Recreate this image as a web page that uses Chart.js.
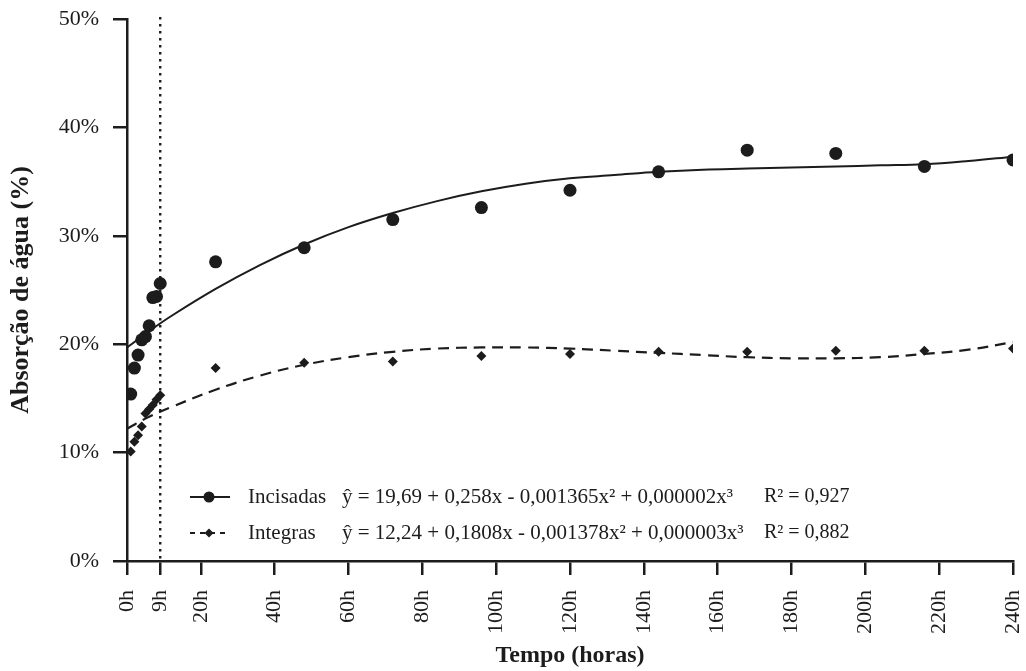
<!DOCTYPE html>
<html>
<head>
<meta charset="utf-8">
<script src="https://cdn.jsdelivr.net/npm/chart.js@4/dist/chart.umd.min.js"></script>
<style>
  html, body { margin: 0; padding: 0; background: #fff; }
  #wrap { width: 1026px; height: 671px; position: relative; }
</style>
</head>
<body>
<div id="wrap"><canvas id="c" width="1026" height="671"></canvas></div>
<script>
// ---- data ----
const sampleHours = [1, 2, 3, 4, 5, 6, 7, 8, 9, 24, 48, 72, 96, 120, 144, 168, 192, 216, 240];
const incisadas   = [15.4, 17.8, 19.0, 20.4, 20.7, 21.7, 24.3, 24.4, 25.6, 27.6, 28.9, 31.5, 32.6, 34.2, 35.9, 37.9, 37.6, 36.4, 37.0];
const integras    = [10.1, 11.0, 11.6, 12.4, 13.6, 14.0, 14.4, 14.9, 15.3, 17.8, 18.3, 18.4, 18.9, 19.1, 19.3, 19.3, 19.4, 19.4, 19.6];

const curveHours   = [0, 6, 12, 24, 36, 48, 60, 72, 84, 96, 108, 120, 132, 144, 156, 168, 180, 192, 204, 216, 228, 240];
const incisadasFit = [19.7, 21.2, 22.6, 25.1, 27.3, 29.2, 30.8, 32.1, 33.2, 34.1, 34.8, 35.3, 35.6, 35.9, 36.1, 36.2, 36.3, 36.4, 36.5, 36.6, 36.9, 37.3];
const integrasFit  = [12.2, 13.3, 14.2, 15.8, 17.1, 18.1, 18.8, 19.3, 19.6, 19.7, 19.7, 19.6, 19.4, 19.2, 19.0, 18.8, 18.7, 18.7, 18.8, 19.1, 19.5, 20.2];

const xTicks = [0, 9, 20, 40, 60, 80, 100, 120, 140, 160, 180, 200, 220, 240];
const yTicks = [0, 10, 20, 30, 40, 50];
const markerHour = 9;

const seriesNames = ['Incisadas', 'Integras'];
const equations = [
  'ŷ = 19,69 + 0,258x - 0,001365x² + 0,000002x³',
  'ŷ = 12,24 + 0,1808x - 0,001378x² + 0,000003x³'
];
const r2Labels = ['R² = 0,927', 'R² = 0,882'];

const xTitle = 'Tempo (horas)';
const yTitle = 'Absorção de água (%)';

// ---- helpers ----
const toXY = (xs, ys) => xs.map((x, i) => ({ x: x, y: ys[i] }));
const INK = '#1c1c1c';
const SERIF = '"Liberation Serif", "Times New Roman", serif';

const vLinePlugin = {
  id: 'vline',
  beforeDatasetsDraw(chart) {
    const { ctx, chartArea, scales } = chart;
    const x = scales.x.getPixelForValue(markerHour);
    ctx.save();
    ctx.strokeStyle = INK;
    ctx.lineWidth = 2.4;
    ctx.setLineDash([2.4, 4.6]);
    ctx.beginPath();
    ctx.moveTo(x, chartArea.top - 2);
    ctx.lineTo(x, chartArea.bottom);
    ctx.stroke();
    ctx.restore();
  }
};

const legendPlugin = {
  id: 'customLegend',
  afterDraw(chart) {
    const { ctx, chartArea } = chart;
    const x0 = chartArea.left + 63;
    const rows = [chartArea.bottom - 64, chartArea.bottom - 28];
    ctx.save();
    ctx.fillStyle = INK;
    ctx.strokeStyle = INK;
    ctx.textBaseline = 'middle';
    rows.forEach((y, i) => {
      // sample line
      ctx.lineWidth = 2;
      ctx.setLineDash(i === 0 ? [] : [5, 5]);
      ctx.beginPath();
      ctx.moveTo(x0, y);
      ctx.lineTo(x0 + 40, y);
      ctx.stroke();
      ctx.setLineDash([]);
      // marker
      ctx.beginPath();
      if (i === 0) {
        ctx.arc(x0 + 19, y, 5.5, 0, Math.PI * 2);
      } else {
        const r = 4.5;
        ctx.moveTo(x0 + 19, y - r);
        ctx.lineTo(x0 + 19 + r, y);
        ctx.lineTo(x0 + 19, y + r);
        ctx.lineTo(x0 + 19 - r, y);
        ctx.closePath();
      }
      ctx.fill();
      // texts
      ctx.font = '21px ' + SERIF;
      ctx.fillText(seriesNames[i], x0 + 58, y);
      ctx.fillText(equations[i], x0 + 152, y);
      ctx.font = '20px ' + SERIF;
      ctx.fillText(r2Labels[i], x0 + 574, y);
    });
    ctx.restore();
  }
};

new Chart(document.getElementById('c'), {
  type: 'scatter',
  data: {
    datasets: [
      {
        label: seriesNames[0],
        data: toXY(sampleHours, incisadas),
        showLine: false,
        pointStyle: 'circle',
        pointRadius: 6.5,
        pointBackgroundColor: INK,
        pointBorderColor: INK,
        pointBorderWidth: 0
      },
      {
        label: seriesNames[1],
        data: toXY(sampleHours, integras),
        showLine: false,
        pointStyle: 'rectRot',
        pointRadius: 5,
        pointBackgroundColor: INK,
        pointBorderColor: INK,
        pointBorderWidth: 0
      },
      {
        label: seriesNames[0] + ' (ajuste)',
        data: toXY(curveHours, incisadasFit),
        showLine: true,
        tension: 0.4,
        borderColor: INK,
        borderWidth: 2,
        pointRadius: 0,
        fill: false
      },
      {
        label: seriesNames[1] + ' (ajuste)',
        data: toXY(curveHours, integrasFit),
        showLine: true,
        tension: 0.4,
        borderColor: INK,
        borderWidth: 2.2,
        borderDash: [11, 7],
        pointRadius: 0,
        fill: false
      }
    ]
  },
  options: {
    responsive: false,
    animation: false,
    events: [],
    layout: { padding: { left: 0, right: 13, top: 19, bottom: 0 } },
    plugins: {
      legend: { display: false },
      tooltip: { enabled: false }
    },
    scales: {
      x: {
        type: 'linear',
        min: 0,
        max: 240,
        afterBuildTicks(scale) { scale.ticks = xTicks.map(v => ({ value: v })); },
        afterFit(scale) {
          scale.height = 110;
          scale.paddingLeft = 0;
          scale.paddingRight = 0;
        },
        ticks: {
          autoSkip: false,
          minRotation: 90,
          maxRotation: 90,
          padding: 15,
          color: INK,
          font: { family: SERIF, size: 22 },
          callback: v => v + 'h'
        },
        grid: {
          drawOnChartArea: false,
          drawTicks: true,
          tickLength: 14,
          color: INK,
          lineWidth: 2.5
        },
        border: { display: true, color: INK, width: 2.5 },
        title: {
          display: true,
          text: xTitle,
          color: INK,
          font: { family: SERIF, size: 24, weight: 'bold' },
          padding: { top: 0, bottom: 1 }
        }
      },
      y: {
        min: 0,
        max: 50,
        afterBuildTicks(scale) { scale.ticks = yTicks.map(v => ({ value: v })); },
        afterFit(scale) {
          scale.width = 127;
          scale.paddingTop = 0;
          scale.paddingBottom = 0;
        },
        ticks: {
          padding: 14,
          color: INK,
          font: { family: SERIF, size: 22 },
          callback: v => v + '%'
        },
        grid: {
          drawOnChartArea: false,
          drawTicks: true,
          tickLength: 14,
          color: INK,
          lineWidth: 2.5
        },
        border: { display: true, color: INK, width: 2.5 },
        title: {
          display: true,
          text: yTitle,
          color: INK,
          font: { family: SERIF, size: 26, weight: 'bold' },
          padding: { top: 6, bottom: 0 }
        }
      }
    }
  },
  plugins: [vLinePlugin, legendPlugin]
});
</script>
</body>
</html>
